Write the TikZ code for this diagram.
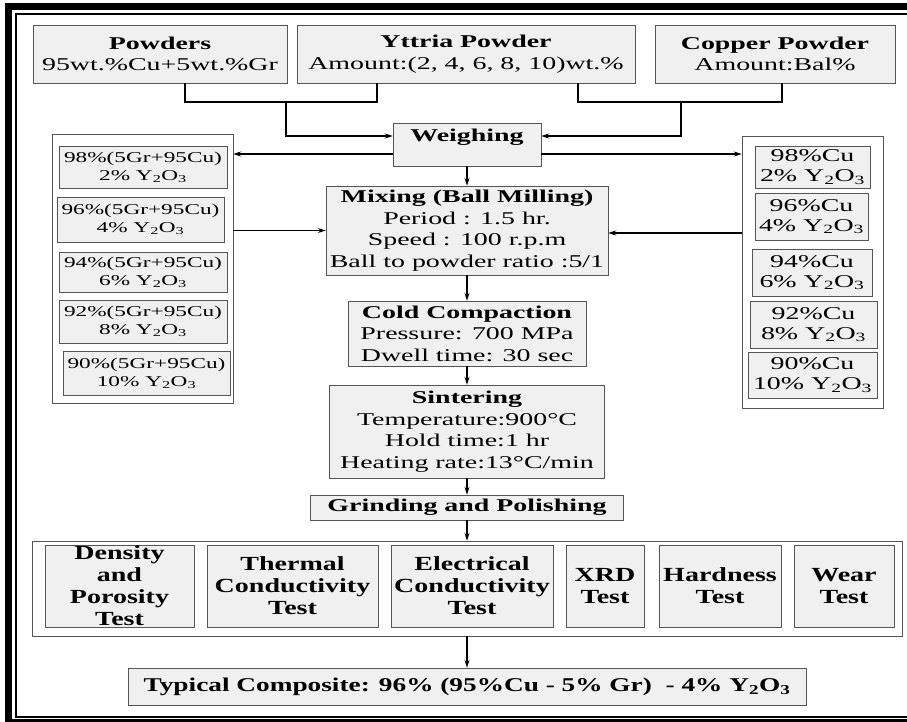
\documentclass[tikz,border=0pt]{standalone}
\usepackage{fontspec}
\setmainfont{Liberation Serif}[FakeStretch=1.55]
\newfontfamily\testfont{Liberation Serif}[FakeStretch=1.4]
\usetikzlibrary{arrows.meta, positioning}
\definecolor{boxfill}{RGB}{240,240,240}
\definecolor{boxline}{RGB}{85,85,85}
\newcommand{\ytox}{Y\textsubscript{2}O\textsubscript{3}}

\begin{document}
\begin{tikzpicture}[x=1pt, y=-1pt,
	box/.style={draw=boxline, fill=boxfill, align=center, inner sep=0pt, font=\fontsize{18}{21.5}\selectfont},
	lbox/.style={box, font=\fontsize{15}{18}\selectfont},
	rbox/.style={box, font=\fontsize{18}{20}\selectfont},
	testbox/.style={box, minimum height=82pt, font=\testfont\bfseries\fontsize{20}{22}\selectfont},
	panel/.style={draw=boxline, fill=white, inner sep=0pt},
	line/.style={line width=1.8pt},
	arr/.style={-{Stealth[length=8pt,width=5pt]}, line width=1.8pt}]
	\useasboundingbox (0,0) rectangle (907,722);
	% frame
	\draw[line width=6.5pt] (8.25,6.75) rectangle (960,722.5);
	\draw[line width=2pt] (16,13.8) rectangle (960,716.5);
	% raw materials
	\node[box, minimum width=254pt, minimum height=58pt] (powders) at (160,54) {\textbf{Powders}\\95wt.\%Cu+5wt.\%Gr};
	\node[box, minimum width=338pt, minimum height=58pt] (yttria) at (466,54) {\textbf{Yttria Powder}\\Amount:(2, 4, 6, 8, 10)wt.\%};
	\node[box, minimum width=240pt, minimum height=58pt] (copper) at (775,54) {\textbf{Copper Powder}\\Amount:Bal\%};
	% process chain
	\node[box, minimum width=148pt, text height=19pt, text depth=24pt] (weigh) at (467,144.5) {\textbf{Weighing}};
	\node[box, minimum width=282pt, minimum height=89pt] (mix) at (467,230.5) {\textbf{Mixing (Ball Milling)}\\Period : 1.5 hr.\\Speed : 100 r.p.m\\Ball to powder ratio :5/1};
	\node[box, minimum width=238pt, minimum height=65pt] (cold) at (467,333.5) {\textbf{Cold Compaction}\\Pressure: 700 MPa\\Dwell time: 30 sec};
	\node[box, minimum width=275pt, minimum height=93pt] (sint) at (467,431.5) {\textbf{Sintering}\\Temperature:900°C\\Hold time:1 hr\\Heating rate:13°C/min};
	\node[box, minimum width=313pt, minimum height=25pt] (grind) at (467,507.5) {\textbf{Grinding and Polishing}};
	% graphite compositions
	\node[panel, minimum width=181pt, minimum height=269pt] (lpanel) at (142.5,268.5) {};
	\node[lbox, minimum width=168pt, minimum height=42pt] (gr2) at (143,167) {98\%(5Gr+95Cu)\\2\% \ytox};
	\node[lbox, minimum width=167pt, minimum height=45pt] (gr4) at (140.5,219.5) {96\%(5Gr+95Cu)\\4\% \ytox};
	\node[lbox, minimum width=168pt, minimum height=40pt] (gr6) at (143,272) {94\%(5Gr+95Cu)\\6\% \ytox};
	\node[lbox, minimum width=168pt, minimum height=43pt] (gr8) at (143,321.5) {92\%(5Gr+95Cu)\\8\% \ytox};
	\node[lbox, minimum width=167pt, minimum height=44pt] (gr10) at (146.5,373) {90\%(5Gr+95Cu)\\10\% \ytox};
	% copper compositions
	\node[panel, minimum width=141pt, minimum height=272pt] (rpanel) at (812.5,272) {};
	\node[rbox, minimum width=115pt, minimum height=42pt] (cu2) at (812.5,167) {98\%Cu\\2\% \ytox};
	\node[rbox, minimum width=113pt, minimum height=47pt] (cu4) at (811.5,216.5) {96\%Cu\\4\% \ytox};
	\node[rbox, minimum width=120pt, minimum height=47pt] (cu6) at (812,272.5) {94\%Cu\\6\% \ytox};
	\node[rbox, minimum width=127pt, minimum height=47pt] (cu8) at (813.5,324.5) {92\%Cu\\8\% \ytox};
	\node[rbox, minimum width=129pt, minimum height=46pt] (cu10) at (812.5,375) {90\%Cu\\10\% \ytox};
	% tests
	\node[panel, minimum width=870pt, minimum height=95pt] (tests) at (467,588.5) {};
	\node[testbox, minimum width=149pt] (dens) at (119.5,586) {Density\\and\\Porosity\\Test};
	\node[testbox, minimum width=171pt] (therm) at (292.5,586) {Thermal\\Conductivity\\Test};
	\node[testbox, minimum width=162pt] (elec) at (472,586) {Electrical\\Conductivity\\Test};
	\node[testbox, minimum width=78pt] (xrd) at (605,586) {XRD\\Test};
	\node[testbox, minimum width=122pt] (hard) at (720,586) {Hardness\\Test};
	\node[testbox, minimum width=100pt] (wear) at (844,586) {Wear\\Test};
	\node[box, minimum width=678pt, minimum height=37pt, font=\testfont\bfseries\fontsize{19.5}{22}\selectfont] (comp) at (467,686.5) {Typical Composite: 96\% (95\%Cu - 5\% Gr)~ - 4\% \ytox};
	% connectors
	\coordinate (joinL) at (286,102);
	\coordinate (joinR) at (681,102);
	\draw[line] ([xshift=25pt]powders.south) |- (joinL) -| ([xshift=-89pt]yttria.south);
	\draw[line] ([xshift=112pt]yttria.south) |- (joinR) -| ([xshift=7pt]copper.south);
	\draw[arr] (joinL) |- ([yshift=8.5pt]weigh.west);
	\draw[arr] (joinR) |- ([yshift=8.5pt]weigh.east);
	\draw[arr] ([yshift=-9.5pt]weigh.west) -- ([yshift=-9.5pt]lpanel.east |- weigh.west);
	\draw[arr] ([yshift=-9.5pt]weigh.east) -- ([yshift=-9.5pt]rpanel.west |- weigh.east);
	\draw[arr] (lpanel.east |- mix.west) -- (mix.west);
	\draw[arr] ([yshift=-2.5pt]rpanel.west |- mix.east) -- ([yshift=-2.5pt]mix.east);
	\draw[arr] (weigh.south) -- (mix.north);
	\draw[arr] (mix.south) -- (cold.north);
	\draw[arr] (cold.south) -- (sint.north);
	\draw[arr] (sint.south) -- (grind.north);
	\draw[arr] (grind.south) -- (tests.north);
	\draw[arr] (tests.south) -- (comp.north);
\end{tikzpicture}
\end{document}
